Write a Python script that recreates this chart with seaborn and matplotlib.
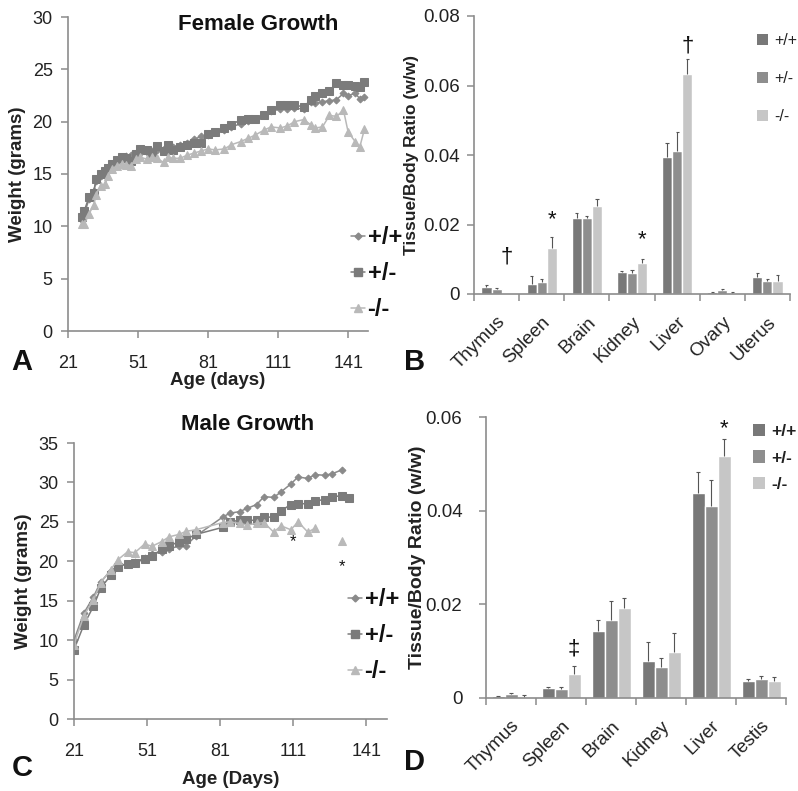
import numpy as np
import pandas as pd
import matplotlib
matplotlib.use('Agg')
import matplotlib.pyplot as plt
import seaborn as sns
from matplotlib.lines import Line2D
from matplotlib.patches import Patch

sns.set_style('white')
plt.rcParams['font.family'] = ['Liberation Sans', 'DejaVu Sans']

genotypes = ['+/+', '+/-', '-/-']

# Female growth curves (weight in grams)
female_days = [27, 28, 30, 32, 33, 35, 37, 38, 40, 42, 44, 46, 48, 50, 52, 55, 57, 59, 62, 64,
               66, 69, 72, 75, 78, 81, 84, 88, 91, 95, 98, 101, 105, 108, 112, 115, 118, 122,
               125, 127, 130, 133, 136, 139, 141, 144, 146, 148]
female_wt = [10.6, 11.2, 12.6, 13.4, 14.3, 14.8, 15.0, 15.5, 15.9, 16.2, 16.5, 16.7, 16.8, 17.0,
             17.0, 17.1, 17.2, 17.3, 17.4, 17.5, 17.6, 17.8, 18.0, 18.3, 18.6, 18.7, 19.0, 19.2,
             19.5, 19.8, 20.1, 20.3, 20.6, 21.0, 21.2, 21.2, 21.3, 21.2, 21.9, 21.8, 21.9, 22.0,
             22.1, 22.7, 22.5, 22.7, 22.2, 22.4]
female_het = [10.9, 11.5, 12.8, 13.2, 14.5, 15.0, 15.3, 15.6, 16.0, 16.3, 16.6, 16.5, 16.2, 16.9,
              17.4, 17.3, 17.0, 17.7, 17.2, 17.8, 17.3, 17.6, 17.8, 18.0, 18.0, 18.8, 19.0, 19.4,
              19.7, 20.2, 20.3, 20.3, 20.6, 21.1, 21.6, 21.6, 21.6, 21.4, 22.1, 22.5, 22.7, 22.9,
              23.7, 23.5, 23.5, 23.4, 23.3, 23.8]
female_ko = [10.2, 10.2, 11.2, 12.0, 13.0, 13.9, 14.0, 14.8, 15.5, 15.8, 16.0, 15.9, 15.8, 16.4,
             16.6, 16.4, 16.6, 16.5, 16.1, 16.6, 16.5, 16.5, 16.8, 17.0, 17.2, 17.4, 17.3, 17.4,
             17.8, 18.1, 18.4, 18.7, 19.2, 19.5, 19.4, 19.6, 20.0, 20.2, 19.7, 19.4, 19.5, 20.6,
             20.5, 21.1, 19.0, 18.1, 17.6, 19.3]

# Male growth curves (weight in grams)
male_days = [21, 25, 29, 32, 36, 39, 43, 46, 50, 53, 57, 60, 64, 67, 71, 82, 85, 89, 92, 96,
             99, 103, 106, 110, 113, 117, 120, 124, 127, 131, 134]
male_wt = [10.0, 13.4, 15.5, 17.4, 18.8, 19.4, 19.7, 19.9, 20.4, 20.9, 21.2, 21.6, 21.9, 22.0,
           23.2, 25.6, 26.1, 26.3, 26.7, 27.2, 28.2, 28.1, 28.8, 29.8, 30.7, 30.5, 31.0, 30.9,
           31.1, 31.6, np.nan]
male_het = [8.8, 11.9, 14.3, 16.6, 18.2, 19.3, 19.7, 19.8, 20.3, 20.7, 21.5, 21.9, 22.5, 22.8,
            23.4, 24.3, 25.0, 25.2, 25.2, 25.2, 25.6, 25.6, 26.4, 27.2, 27.3, 27.3, 27.7, 27.8,
            28.2, 28.3, 28.0]
male_ko = [9.4, 13.1, 15.1, 17.3, 18.9, 20.2, 21.2, 21.1, 22.2, 21.9, 22.5, 23.1, 23.4, 23.8,
           24.0, 24.9, 25.0, 24.8, 24.6, 24.8, 24.9, 23.7, 24.5, 24.0, 25.0, 23.7, 24.2, np.nan,
           np.nan, 22.6, np.nan]
male_stars_x = [111, 131]
male_stars_y = [22.5, 19.3]

# Female tissue / body ratios
female_organs = ['Thymus', 'Spleen', 'Brain', 'Kidney', 'Liver', 'Ovary', 'Uterus']
f_ratio_wt = [0.0020, 0.0029, 0.0218, 0.0062, 0.0395, 0.0005, 0.0050]
f_ratio_het = [0.0013, 0.0035, 0.0218, 0.0061, 0.0412, 0.0012, 0.0038]
f_ratio_ko = [np.nan, 0.0131, 0.0254, 0.0088, 0.0633, 0.0002, 0.0037]
f_err_wt = [0.0005, 0.0023, 0.0016, 0.0005, 0.0039, 0.0001, 0.0011]
f_err_het = [0.0005, 0.0007, 0.0006, 0.0008, 0.0055, 0.0002, 0.0004]
f_err_ko = [np.nan, 0.0033, 0.0018, 0.0012, 0.0044, 0.0005, 0.0017]
f_marks = [('†', 0, 2, 0.0107), ('*', 1, 2, 0.0215), ('*', 3, 2, 0.0155), ('†', 4, 2, 0.0715)]

# Male tissue / body ratios
male_organs = ['Thymus', 'Spleen', 'Brain', 'Kidney', 'Liver', 'Testis']
m_ratio_wt = [0.0004, 0.0021, 0.0142, 0.0080, 0.0438, 0.0037]
m_ratio_het = [0.0009, 0.0019, 0.0167, 0.0066, 0.0410, 0.0040]
m_ratio_ko = [0.0003, 0.0051, 0.0192, 0.0098, 0.0516, 0.0037]
m_err_wt = [0.0001, 0.0002, 0.0025, 0.0039, 0.0045, 0.0004]
m_err_het = [0.0001, 0.0004, 0.0040, 0.0019, 0.0055, 0.0006]
m_err_ko = [0.0003, 0.0018, 0.0021, 0.0040, 0.0038, 0.0007]
m_marks = [('‡', 1, 2, 0.0105), ('*', 4, 2, 0.0575)]

line_colors = ['#8a8a8a', '#7b7b7b', '#b9b9b9']
line_markers = ['D', 's', '^']
marker_sizes = [3.5, 5.5, 5.5]
bar_colors = ['#787878', '#8e8e8e', '#c6c6c6']
text_col = '#222222'
spine_col = '#8c8c8c'

fig = plt.figure(figsize=(7.98, 7.91), dpi=100)


def style_axes(ax):
    sns.despine(ax=ax)
    for s in ['left', 'bottom']:
        ax.spines[s].set_color(spine_col)
        ax.spines[s].set_linewidth(1.2)
    ax.tick_params(axis='both', direction='out', length=5, width=1.1, color=spine_col,
                   labelcolor=text_col, left=True, bottom=True)


def growth_panel(ax, days, series, ylim, yticks, title, xlabel, title_xy, xlab_pad):
    for vals, col, mk, ms, lab in zip(series, line_colors, line_markers, marker_sizes, genotypes):
        d = pd.DataFrame({'day': days, 'weight': vals})
        # break the line wherever a value is missing
        grp = d['weight'].isna().cumsum()
        d = d.assign(grp=grp).dropna()
        for _, seg in d.groupby('grp'):
            sns.lineplot(data=seg, x='day', y='weight', color=col, marker=mk, markersize=ms,
                         markeredgecolor=col, linewidth=1.1, ax=ax, legend=False)
    ax.set_xlim(21, 149.5)
    ax.set_ylim(*ylim)
    ax.set_xticks([21, 51, 81, 111, 141])
    ax.set_yticks(yticks)
    style_axes(ax)
    ax.tick_params(axis='x', labelsize=13, pad=12)
    ax.tick_params(axis='y', labelsize=13, pad=6)
    ax.set_xlabel(xlabel, fontsize=13.5, fontweight='bold', color=text_col, labelpad=xlab_pad)
    ax.set_ylabel('Weight (grams)', fontsize=13.5, fontweight='bold', color=text_col, labelpad=5)
    fig.text(title_xy[0] / 798, 1 - title_xy[1] / 791, title, fontsize=16, fontweight='bold',
             ha='center', va='center', color='#111111')


def growth_legend(ax, top_px, left_px):
    handles = [Line2D([0], [0], color=c, marker=m, markersize=s, markeredgecolor=c, linewidth=1.1)
               for c, m, s in zip(line_colors, line_markers, marker_sizes)]
    leg = ax.legend(handles, genotypes, loc='upper left',
                    bbox_to_anchor=(left_px / 798, 1 - top_px / 791), bbox_transform=fig.transFigure,
                    frameon=False, handlelength=0.6, handletextpad=0.1, labelspacing=0.55,
                    borderpad=0, borderaxespad=0, prop={'size': 17, 'weight': 'bold'})
    for t in leg.get_texts():
        t.set_color('#111111')


def ratio_panel(ax, organs, vals, errs, width, ylim, yticks, marks, ylab_x, ylab_size, ytick_pad):
    rows = []
    for g, v in zip(genotypes, vals):
        for o, r in zip(organs, v):
            rows.append({'organ': o, 'genotype': g, 'ratio': r})
    df = pd.DataFrame(rows)
    sns.barplot(data=df, x='organ', y='ratio', hue='genotype', hue_order=genotypes, order=organs,
                palette=bar_colors, width=width, gap=0, errorbar=None, saturation=1,
                ax=ax, legend=False)
    n = len(organs)
    step = width / 3
    for j, (v, e) in enumerate(zip(vals, errs)):
        for i in range(n):
            if np.isnan(v[i]):
                continue
            x = i + (j - 1) * step
            ax.vlines(x, v[i], v[i] + e[i], color='#555555', linewidth=0.8)
            ax.hlines(v[i] + e[i], x - 0.035, x + 0.035, color='#555555', linewidth=0.8)
    for sym, i, j, y in marks:
        ax.text(i + (j - 1) * step, y, sym, ha='center', va='center', fontsize=16, color='#111111')
    ax.set_xlim(-0.5, n - 0.5)
    ax.set_ylim(*ylim)
    ax.set_yticks(yticks)
    ax.set_yticklabels(['0'] + ['%.2f' % t for t in yticks[1:]])
    # category boundaries carry the tick marks, labels sit at the centres
    ax.set_xticks(np.arange(-0.5, n, 1.0))
    ax.set_xticklabels([])
    ax.set_xticks(np.arange(n), minor=True)
    ax.set_xticklabels(organs, minor=True, rotation=45, ha='right', rotation_mode='anchor',
                       fontsize=13.5, color=text_col)
    style_axes(ax)
    ax.tick_params(axis='x', which='minor', length=0, pad=14)
    ax.tick_params(axis='y', labelsize=13.5, pad=ytick_pad)
    ax.set_xlabel('')
    ax.set_ylabel('Tissue/Body Ratio (w/w)', fontsize=ylab_size, fontweight='bold', color=text_col)
    ax.yaxis.set_label_coords(ylab_x, 0.5)


def ratio_legend(ax, top_px, left_px, size, weight, spacing):
    handles = [Patch(facecolor=c, edgecolor='none') for c in bar_colors]
    leg = ax.legend(handles, genotypes, loc='upper left',
                    bbox_to_anchor=(left_px / 798, 1 - top_px / 791), bbox_transform=fig.transFigure,
                    frameon=False, handlelength=0.7, handleheight=0.7, handletextpad=0.35,
                    labelspacing=spacing, borderpad=0, borderaxespad=0,
                    prop={'size': size, 'weight': weight})
    for t in leg.get_texts():
        t.set_color(text_col)


# Panel A: female growth
axA = fig.add_axes([68 / 798, 1 - 331 / 791, 300 / 798, 314 / 791])
growth_panel(axA, female_days, [female_wt, female_het, female_ko], (0, 30), range(0, 31, 5),
             'Female Growth', 'Age (days)', (258, 24), 0)
growth_legend(axA, 226, 351)

# Panel C: male growth
axC = fig.add_axes([74 / 798, 1 - 719 / 791, 313 / 798, 276 / 791])
growth_panel(axC, male_days, [male_wt, male_het, male_ko], (0, 35), range(0, 36, 5),
             'Male Growth', 'Age (Days)', (248, 424), 8)
for x, y in zip(male_stars_x, male_stars_y):
    axC.text(x, y, '*', ha='center', va='center', fontsize=12, color='#111111')
growth_legend(axC, 588, 348)

# Panel B: female organ ratios
axB = fig.add_axes([474 / 798, 1 - 294 / 791, 316 / 798, 278 / 791])
ratio_panel(axB, female_organs, [f_ratio_wt, f_ratio_het, f_ratio_ko],
            [f_err_wt, f_err_het, f_err_ko], 0.67, (0, 0.08), [0, 0.02, 0.04, 0.06, 0.08],
            f_marks, -0.175, 12.5, 5)
ratio_legend(axB, 33, 757, 11.5, 'normal', 1.45)

# Panel D: male organ ratios
axD = fig.add_axes([486 / 798, 1 - 698 / 791, 300 / 798, 281 / 791])
ratio_panel(axD, male_organs, [m_ratio_wt, m_ratio_het, m_ratio_ko],
            [m_err_wt, m_err_het, m_err_ko], 0.78, (0, 0.06), [0, 0.02, 0.04, 0.06],
            m_marks, -0.2, 14, 12)
ratio_legend(axD, 424, 753, 12.5, 'bold', 0.65)

# Panel letters
for lab, (x, y) in zip('ABCD', [(22, 362), (415, 362), (22, 768), (415, 762)]):
    fig.text(x / 798, 1 - y / 791, lab, fontsize=21, fontweight='bold', ha='center', va='center',
             color='#111111')

fig.savefig('out.png', dpi=100)
